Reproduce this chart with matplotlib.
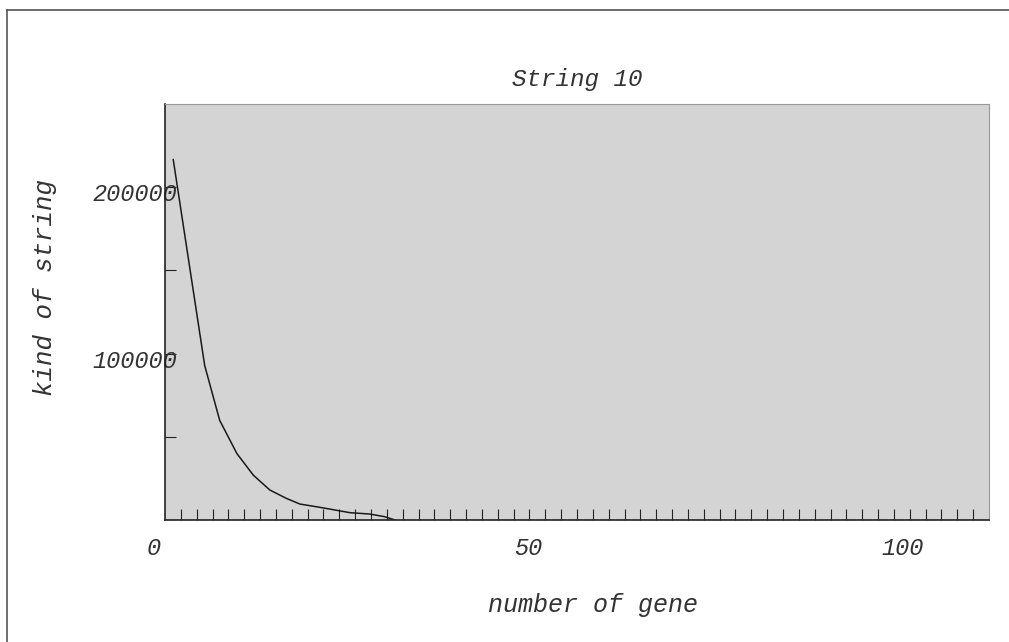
import numpy as np
import matplotlib
matplotlib.use("Agg")
import matplotlib.pyplot as plt
from matplotlib.lines import Line2D
from matplotlib.transforms import ScaledTranslation

# data
genes = [1.1, 5.3, 7.3, 9.6, 11.8, 14.0, 16.2, 18.0, 20.7, 24.7, 27.3, 29.3, 30.7]
kinds = [216600, 92800, 59900, 39900, 26900, 18000, 13000, 9600, 7600, 4400, 3600, 2000, 0]
x_labels = ["0", "50", "100"]
x_label_pos = [0, 50, 100]
y_labels = ["100000", "200000"]
y_label_pos = [100000, 200000]

FONT = "Liberation Mono"
TXT = "#333333"

fig = plt.figure(figsize=(10.09, 6.42), dpi=100)
ax = fig.add_axes([165 / 1009, 1 - 520 / 642, (989 - 165) / 1009, (520 - 104) / 642])
ax.set_facecolor("#d4d4d4")

ax.plot(genes, kinds, color="#1a1a1a", lw=1.1)

ax.set_xlim(0, 110)
ax.set_ylim(0, 250000)

# x ticks: many small inward ticks, labels shifted a bit to the left
ax.set_xticks(np.linspace(0, 110, 53)[1:-1], minor=True)
ax.set_xticks(x_label_pos)
ax.set_xticklabels(x_labels)
ax.tick_params(axis="x", which="both", direction="in", length=8, color="#222222",
               width=0.8, pad=12)
ax.tick_params(axis="x", which="major", length=0)
for lab in ax.get_xticklabels():
    lab.set_fontfamily(FONT)
    lab.set_fontstyle("italic")
    lab.set_fontsize(17)
    lab.set_color(TXT)
    lab.set_transform(lab.get_transform() + ScaledTranslation(-0.11, 0, fig.dpi_scale_trans))

# y ticks: inward, labels overlap the axis
ax.set_yticks([50000, 100000, 150000, 200000])
ax.set_yticklabels(["", y_labels[0], "", y_labels[1]])
ax.tick_params(axis="y", direction="in", length=8, color="#222222", width=0.8, pad=-9)
for lab in ax.get_yticklabels():
    lab.set_fontfamily(FONT)
    lab.set_fontstyle("italic")
    lab.set_fontsize(17)
    lab.set_color(TXT)
    lab.set_transform(lab.get_transform() + ScaledTranslation(0, -0.05, fig.dpi_scale_trans))

for side in ["left", "bottom"]:
    ax.spines[side].set_color("#222222")
    ax.spines[side].set_linewidth(1.2)
for side in ["top", "right"]:
    ax.spines[side].set_color("#999999")
    ax.spines[side].set_linewidth(0.8)

ax.set_title("String 10", fontfamily=FONT, fontstyle="italic", fontsize=17.5,
             color=TXT, pad=13)
ax.set_xlabel("number of gene", fontfamily=FONT, fontstyle="italic", fontsize=18,
              color=TXT)
ax.xaxis.set_label_coords((593 - 165) / (989 - 165), -(593 - 520) / (520 - 104))
fig.text(45 / 1009, 1 - 287 / 642, "kind of string", rotation=90, ha="center", va="center",
         fontfamily=FONT, fontstyle="italic", fontsize=18.5, color=TXT)

# outer frame (left and top edges visible)
fig.add_artist(Line2D([7 / 1009, 7 / 1009], [0, 1 - 10 / 642], color="#555555", lw=1.2))
fig.add_artist(Line2D([7 / 1009, 1], [1 - 10 / 642, 1 - 10 / 642], color="#555555", lw=1.2))

fig.savefig("out.png", dpi=100)
